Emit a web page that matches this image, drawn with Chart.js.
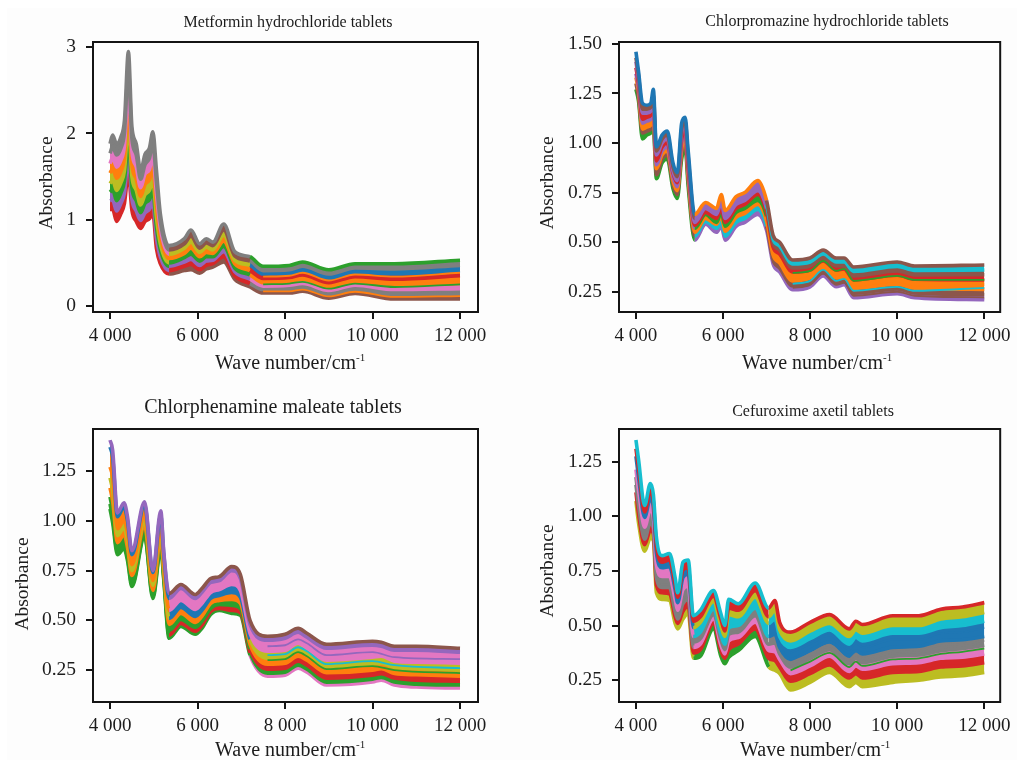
<!DOCTYPE html>
<html><head><meta charset="utf-8">
<script src="https://cdn.jsdelivr.net/npm/chart.js@4"></script>
<style>
html,body{margin:0;padding:0;background:#fff;overflow:hidden}
#paper{position:absolute;left:7px;top:8px;width:1010px;height:752px;background:#fdfdfd}
canvas{position:absolute;filter:blur(0.55px)}
</style></head><body>
<div id="paper"></div>
<canvas id="c1" width="510" height="380" style="left:0;top:0"></canvas>
<canvas id="c2" width="507" height="380" style="left:510px;top:0"></canvas>
<canvas id="c3" width="510" height="380" style="left:0;top:380px"></canvas>
<canvas id="c4" width="507" height="380" style="left:510px;top:380px"></canvas>
<script>
// ---------- data ----------
const xTicks=[4000,6000,8000,10000,12000];
const xTickLabels=['4 000','6 000','8 000','10 000','12 000'];
const yTicks1=[0,1,2,3];
const yTickLabels1=['0','1','2','3'];
const yTicks2=[0.25,0.5,0.75,1,1.25,1.5];
const yTickLabels2=['0.25','0.50','0.75','1.00','1.25','1.50'];
const yTicks3=[0.25,0.5,0.75,1,1.25];
const yTickLabels3=['0.25','0.50','0.75','1.00','1.25'];

const metforminWaves=[4000,4060,4150,4250,4330,4420,4500,4600,4700,4800,4900,4980,5060,5150,5350,5700,5850,6050,6200,6350,6600,6850,7200,7500,8100,8400,9000,9600,10500,12000];
const metformin1=[1.88,1.98,1.88,1.96,2.15,2.95,2.08,1.88,1.57,1.76,1.83,2.02,1.58,1.07,.70,.78,.88,.72,.78,.74,.95,.63,.57,.46,.47,.51,.42,.49,.49,.53];
const metformin2=[1.77,1.85,1.75,1.83,2.01,2.74,1.94,1.75,1.47,1.64,1.71,1.88,1.44,.98,.65,.72,.81,.67,.73,.70,.88,.58,.52,.41,.42,.46,.37,.44,.43,.47];
const metformin3=[1.65,1.72,1.61,1.69,1.86,2.53,1.79,1.61,1.37,1.53,1.58,1.73,1.31,.90,.60,.67,.74,.62,.68,.65,.82,.53,.47,.37,.37,.41,.32,.39,.37,.41];
const metformin4=[1.54,1.59,1.48,1.56,1.72,2.32,1.64,1.47,1.27,1.41,1.46,1.59,1.17,.81,.55,.61,.67,.57,.62,.61,.75,.49,.41,.32,.33,.36,.27,.34,.31,.35];
const metformin5=[1.42,1.46,1.34,1.43,1.57,2.10,1.50,1.34,1.17,1.29,1.34,1.45,1.03,.72,.50,.56,.60,.52,.57,.57,.69,.44,.36,.27,.28,.31,.22,.28,.25,.26];
const metformin6=[1.32,1.35,1.22,1.31,1.45,1.92,1.37,1.22,1.08,1.19,1.23,1.33,.92,.65,.46,.51,.54,.47,.52,.53,.63,.40,.31,.23,.24,.26,.18,.24,.19,.20];
const metformin7=[1.22,1.23,1.10,1.19,1.31,1.72,1.24,1.10,.99,1.08,1.12,1.19,.79,.57,.41,.46,.48,.42,.47,.49,.57,.35,.26,.19,.19,.21,.13,.19,.13,.14];
const metformin8=[1.12,1.12,.98,1.07,1.19,1.54,1.11,.98,.90,.98,1.01,1.07,.67,.49,.37,.41,.42,.38,.43,.45,.51,.31,.22,.15,.15,.17,.09,.145,.08,.08];
const metforminTailWaves=[7500,8100,8400,9000,9600,10500,12000];
const metforminTailA=[.34,.35,.385,.295,.365,.34,.385];
const metforminTailB=[.25,.26,.28,.20,.26,.22,.25];
const metforminTailC=[.17,.17,.19,.11,.165,.105,.115];

const chlorpromazineWaves=[4000,4060,4150,4250,4340,4400,4470,4600,4720,4850,4950,5050,5130,5200,5350,5600,5850,5960,6050,6300,6500,6800,7000,7150,7300,7600,8000,8300,8600,8780,9000,10000,10400,12000];
const chlorpromazine1=[1.46,1.36,1.20,1.19,1.20,1.27,.98,1.04,1.06,.90,.85,1.10,1.13,.96,.64,.70,.67,.74,.66,.73,.75,.81,.71,.535,.50,.41,.42,.46,.42,.42,.375,.40,.38,.385];
const chlorpromazine2=[1.43,1.34,1.17,1.17,1.18,1.24,.96,1.02,1.04,.88,.83,1.07,1.11,.93,.62,.68,.65,.72,.64,.71,.73,.79,.69,.515,.48,.39,.40,.44,.40,.40,.353,.378,.358,.36];
const chlorpromazine3=[1.41,1.32,1.15,1.15,1.16,1.21,.94,1.00,1.02,.86,.81,1.05,1.09,.91,.60,.67,.64,.70,.62,.69,.71,.76,.67,.495,.46,.37,.38,.42,.38,.38,.33,.355,.335,.336];
const chlorpromazine4=[1.38,1.30,1.12,1.13,1.14,1.19,.91,.98,1.00,.85,.80,1.02,1.07,.88,.585,.65,.62,.67,.60,.67,.69,.74,.65,.475,.44,.35,.36,.405,.36,.365,.31,.333,.313,.31];
const chlorpromazine5=[1.35,1.28,1.10,1.11,1.12,1.16,.89,.96,.98,.83,.78,1.00,1.05,.86,.57,.64,.60,.65,.58,.65,.67,.71,.63,.455,.415,.325,.34,.385,.34,.345,.288,.31,.29,.287];
const chlorpromazine6=[1.33,1.26,1.07,1.08,1.09,1.13,.87,.94,.96,.81,.76,.97,1.03,.83,.55,.62,.59,.63,.555,.625,.645,.69,.605,.435,.395,.305,.32,.37,.32,.325,.267,.288,.268,.262];
const chlorpromazine7=[1.30,1.23,1.05,1.06,1.07,1.10,.84,.92,.94,.79,.74,.95,1.00,.81,.53,.605,.57,.60,.53,.60,.62,.665,.58,.41,.37,.28,.295,.35,.295,.305,.243,.264,.244,.236];
const chlorpromazine8=[1.27,1.21,1.02,1.04,1.05,1.07,.82,.90,.92,.77,.72,.92,.98,.78,.51,.59,.55,.58,.51,.58,.60,.64,.56,.39,.35,.26,.275,.33,.275,.285,.22,.24,.22,.21];
const chlorpromazineTailWaves=[7600,8000,8300,8600,8780,9000,10000,10400,12000];
const chlorpromazineTailA=[.345,.355,.405,.355,.365,.305,.33,.31,.31];
const chlorpromazineTailB=[.29,.305,.36,.305,.315,.255,.275,.255,.27];
const chlorpromazineTailC=[.27,.285,.34,.285,.295,.23,.25,.23,.222];

const chlorphenamineWaves=[4000,4060,4170,4320,4400,4500,4790,4980,5160,5230,5350,5620,5950,6100,6300,6500,6780,6980,7200,7600,8000,8300,8500,8950,10000,10200,10500,11000,12000];
const chlorphenamine1=[1.405,1.355,1.04,1.09,1.02,.85,1.095,.75,1.05,.84,.635,.68,.63,.66,.71,.72,.77,.73,.50,.42,.43,.46,.435,.38,.395,.39,.37,.37,.36];
const chlorphenamine2=[1.37,1.32,1.02,1.07,1.00,.83,1.08,.74,1.03,.83,.61,.66,.61,.64,.69,.70,.75,.71,.48,.40,.41,.44,.415,.36,.375,.37,.35,.35,.34];
const chlorphenamine3=[1.27,1.22,.96,1.00,.94,.78,1.03,.70,.98,.79,.55,.60,.555,.585,.64,.655,.68,.65,.435,.345,.35,.385,.36,.30,.315,.32,.295,.29,.285];
const chlorphenamine4=[1.215,1.155,.925,.965,.90,.75,1.00,.675,.945,.765,.51,.565,.52,.55,.61,.625,.64,.615,.405,.31,.315,.35,.33,.267,.28,.285,.263,.257,.25];
const chlorphenamine5=[1.165,1.10,.89,.93,.865,.725,.975,.65,.915,.74,.48,.535,.49,.52,.585,.60,.605,.585,.38,.28,.285,.32,.30,.237,.25,.257,.233,.227,.22];
const chlorphenamine6=[1.12,1.05,.865,.90,.84,.70,.95,.635,.89,.725,.45,.505,.465,.495,.56,.58,.575,.56,.355,.255,.26,.295,.275,.21,.225,.232,.21,.20,.195];
const chlorphenamine7=[1.085,1.015,.845,.875,.815,.68,.93,.62,.875,.71,.425,.485,.445,.475,.545,.56,.55,.54,.338,.235,.24,.275,.255,.19,.205,.213,.19,.18,.175];
const chlorphenamine8=[1.06,.99,.83,.86,.80,.67,.92,.61,.86,.70,.41,.47,.43,.46,.53,.55,.535,.525,.325,.22,.225,.26,.24,.175,.19,.20,.175,.165,.16];
const chlorphenamineTailWaves=[7600,8000,8300,8500,8950,10000,10500,12000];
const chlorphenamineTailA=[.37,.375,.405,.385,.325,.34,.315,.305];
const chlorphenamineTailB=[.325,.33,.365,.345,.28,.295,.275,.26];
const chlorphenamineTailC=[.30,.305,.34,.32,.255,.27,.25,.235];

const cefuroximeWaves=[4000,4060,4200,4330,4400,4470,4600,4770,4900,4960,5080,5200,5320,5480,5780,5950,6040,6130,6350,6740,7050,7190,7300,7550,8000,8450,8900,9050,9200,9900,10500,11000,11500,12000];
const cefuroxime1=[1.35,1.26,1.05,1.15,1.10,.905,.82,.83,.72,.65,.79,.80,.545,.57,.66,.555,.50,.62,.60,.695,.58,.615,.515,.47,.515,.55,.485,.52,.505,.545,.545,.575,.585,.605];
const cefuroxime2=[1.31,1.22,1.02,1.115,1.07,.87,.79,.80,.69,.63,.755,.765,.52,.54,.635,.53,.475,.58,.57,.66,.54,.57,.48,.43,.475,.51,.45,.48,.465,.50,.50,.53,.54,.56];
const cefuroxime3=[1.275,1.18,.995,1.08,1.04,.835,.765,.77,.665,.605,.72,.735,.49,.515,.61,.50,.45,.55,.54,.63,.51,.53,.45,.40,.44,.48,.415,.445,.43,.465,.465,.49,.50,.52];
const cefuroxime4=[1.215,1.12,.95,1.03,.995,.78,.725,.725,.62,.57,.665,.68,.45,.47,.575,.46,.415,.49,.50,.58,.45,.46,.40,.345,.385,.425,.36,.385,.37,.40,.405,.43,.435,.45];
const cefuroxime5=[1.18,1.08,.92,1.00,.97,.75,.70,.70,.59,.55,.63,.65,.425,.44,.55,.435,.39,.46,.47,.545,.415,.42,.37,.31,.35,.39,.325,.35,.33,.36,.365,.385,.395,.41];
const cefuroxime6=[1.145,1.05,.895,.97,.945,.72,.675,.675,.565,.53,.60,.62,.40,.415,.53,.41,.37,.43,.445,.515,.385,.38,.345,.28,.315,.36,.29,.315,.30,.325,.33,.35,.355,.37];
const cefuroxime7=[1.11,1.01,.87,.935,.92,.685,.65,.645,.54,.51,.565,.59,.375,.39,.51,.385,.35,.39,.415,.485,.35,.34,.31,.245,.28,.32,.26,.28,.26,.285,.29,.31,.315,.33];
const cefuroxime8=[1.07,.97,.84,.90,.89,.65,.62,.615,.51,.485,.53,.555,.35,.36,.485,.36,.325,.355,.385,.45,.31,.295,.28,.205,.24,.285,.22,.24,.22,.24,.25,.265,.27,.285];
const cefuroximeTailWaves=[7550,8000,8450,8900,9050,9200,9900,10500,11000,11500,12000];
const cefuroximeTailA=[.375,.415,.455,.39,.42,.40,.435,.435,.465,.47,.49];
const cefuroximeTailB=[.33,.37,.41,.345,.37,.35,.38,.385,.41,.415,.43];
const cefuroximeTailC=[.295,.335,.375,.31,.335,.315,.345,.35,.37,.38,.395];

// ---------- colours (top to bottom, per spectral zone) ----------
const B='#1f77b4',O='#ff7f0e',G='#2ca02c',R='#d62728',P='#9467bd',N='#8c564b',K='#e377c2',Y='#7f7f7f',L='#bcbd22',C='#17becf';
const colours1=[[Y,Y,K,O,L,G,P,R],[Y,N,L,O,G,P,R,N],[G,Y,B,R,O,K,Y,N]];
const colours2=[[B,N,P,R,P,O,N,G],[O,P,P,R,G,O,C,P],[N,C,N,R,O,O,N,P]];
const colours3=[[P,B,O,L,O,G,G,G],[N,P,K,B,O,G,R,G],[N,P,K,L,O,R,G,K]];
const colours4=[[C,R,B,K,Y,Y,R,L],[C,R,L,C,Y,K,R,G],[R,L,C,B,Y,K,R,L]];
const zoneStarts=[0,5250,7000];

// ---------- drawing ----------
const SERIF='"Liberation Serif","Times New Roman",serif';
function zone(x){let z=0;zoneStarts.forEach((s,i)=>{if(x>=s)z=i});return z}
const textPlugin={id:'panelText',afterDraw(chart,_,o){
  const c=chart.ctx,a=chart.chartArea;
  c.save();
  c.strokeStyle='#141414';c.lineWidth=2;c.strokeRect(a.left,a.top,a.width,a.height);
  c.fillStyle='#1c1c1c';c.textBaseline='alphabetic';
  c.font=o.titleSize+'px '+SERIF;c.textAlign='center';c.fillText(o.title,o.titleX,o.titleY);
  c.font='20px '+SERIF;c.textAlign='left';c.fillText('Wave number/cm',o.labelX,o.labelY);
  const w=c.measureText('Wave number/cm').width;
  c.font='11px '+SERIF;c.fillText('-1',o.labelX+w,o.labelY-8);
  c.font='19.5px '+SERIF;c.textAlign='center';
  c.translate(o.yTitleX,o.yTitleY);c.rotate(-Math.PI/2);c.fillText('Absorbance',0,0);
  c.restore();
}};
function draw(id,cfg){
  const datasets=cfg.series.map((values,i)=>{
    const col=ctx=>cfg.colours[zone(ctx.p0.parsed.x)][i];
    return {data:values.map((y,k)=>({x:cfg.waves[k],y})),
      borderWidth:3.6,pointRadius:0,cubicInterpolationMode:'monotone',borderJoinStyle:'round',
      borderColor:cfg.colours[0][i],backgroundColor:cfg.colours[0][i],
      fill:i===0?false:'-1',
      segment:{borderColor:col,backgroundColor:col}};
  });
  cfg.stripes.forEach((values,i)=>datasets.push({
    data:values.map((y,k)=>({x:cfg.stripeWaves[k],y})),
    borderWidth:1.8,pointRadius:0,cubicInterpolationMode:'monotone',
    borderColor:cfg.stripeColours[i],fill:false,order:-1}));
  new Chart(document.getElementById(id),{
    type:'line',data:{datasets},plugins:[textPlugin],
    options:{responsive:false,animation:false,
      layout:{padding:cfg.padding},
      plugins:{legend:{display:false},tooltip:{enabled:false},panelText:cfg.text},
      scales:{
        x:{type:'linear',min:cfg.xRange[0],max:cfg.xRange[1],
          afterBuildTicks:s=>{s.ticks=xTicks.map(value=>({value}))},
          afterFit:s=>{s.height=cfg.xAxisH},
          grid:{drawOnChartArea:false,color:'#141414',lineWidth:2,tickLength:7},
          border:{color:'#141414',width:2},
          ticks:{color:'#1c1c1c',font:{family:SERIF,size:19},padding:6,maxRotation:0,autoSkip:false,
            callback:v=>xTickLabels[xTicks.indexOf(v)]}},
        y:{min:cfg.yRange[0],max:cfg.yRange[1],
          afterBuildTicks:s=>{s.ticks=cfg.yTicks.map(value=>({value}))},
          afterFit:s=>{s.width=cfg.yAxisW},
          grid:{drawOnChartArea:false,color:'#141414',lineWidth:2,tickLength:7},
          border:{color:'#141414',width:2},
          ticks:{color:'#1c1c1c',font:{family:SERIF,size:19.5},padding:10,autoSkip:false,
            callback:v=>cfg.yLabels[cfg.yTicks.indexOf(v)]}}
      }}});
}
draw('c1',{waves:metforminWaves,series:[metformin1,metformin2,metformin3,metformin4,metformin5,metformin6,metformin7,metformin8],
  stripeWaves:metforminTailWaves,stripes:[metforminTailA,metforminTailB,metforminTailC],stripeColours:[O,G,O],
  colours:colours1,yTicks:yTicks1,yLabels:yTickLabels1,xRange:[3611,12411],yRange:[-0.07,3.06],
  yAxisW:93,xAxisH:68,padding:{top:42,right:32,left:0,bottom:0},
  text:{title:'Metformin hydrochloride tablets',titleSize:16,titleX:288,titleY:27,labelX:215,labelY:369,yTitleX:52,yTitleY:183}});
draw('c2',{waves:chlorpromazineWaves,series:[chlorpromazine1,chlorpromazine2,chlorpromazine3,chlorpromazine4,chlorpromazine5,chlorpromazine6,chlorpromazine7,chlorpromazine8],
  stripeWaves:chlorpromazineTailWaves,stripes:[chlorpromazineTailA,chlorpromazineTailB,chlorpromazineTailC],stripeColours:[G,C,N],
  colours:colours2,yTicks:yTicks2,yLabels:yTickLabels2,xRange:[3611,12365],yRange:[0.148,1.509],
  yAxisW:109,xAxisH:68,padding:{top:42,right:14,left:0,bottom:0},
  text:{title:'Chlorpromazine hydrochloride tablets',titleSize:16,titleX:317,titleY:26,labelX:232,labelY:369,yTitleX:43,yTitleY:183}});
draw('c3',{waves:chlorphenamineWaves,series:[chlorphenamine1,chlorphenamine2,chlorphenamine3,chlorphenamine4,chlorphenamine5,chlorphenamine6,chlorphenamine7,chlorphenamine8],
  stripeWaves:chlorphenamineTailWaves,stripes:[chlorphenamineTailA,chlorphenamineTailB,chlorphenamineTailC],stripeColours:[P,C,G],
  colours:colours3,yTicks:yTicks3,yLabels:yTickLabels3,xRange:[3611,12411],yRange:[0.09,1.461],
  yAxisW:93,xAxisH:58,padding:{top:49,right:32,left:0,bottom:0},
  text:{title:'Chlorphenamine maleate tablets',titleSize:20,titleX:273,titleY:33,labelX:215,labelY:376,yTitleX:28,yTitleY:204}});
draw('c4',{waves:cefuroximeWaves,series:[cefuroxime1,cefuroxime2,cefuroxime3,cefuroxime4,cefuroxime5,cefuroxime6,cefuroxime7,cefuroxime8],
  stripeWaves:cefuroximeTailWaves,stripes:[cefuroximeTailA,cefuroximeTailB,cefuroximeTailC],stripeColours:[B,Y,G],
  colours:colours4,yTicks:yTicks3,yLabels:yTickLabels3,xRange:[3611,12365],yRange:[0.15,1.40],
  yAxisW:109,xAxisH:58,padding:{top:49,right:14,left:0,bottom:0},
  text:{title:'Cefuroxime axetil tablets',titleSize:16,titleX:303,titleY:36,labelX:230,labelY:376,yTitleX:43,yTitleY:191}});
</script>
</body></html>
